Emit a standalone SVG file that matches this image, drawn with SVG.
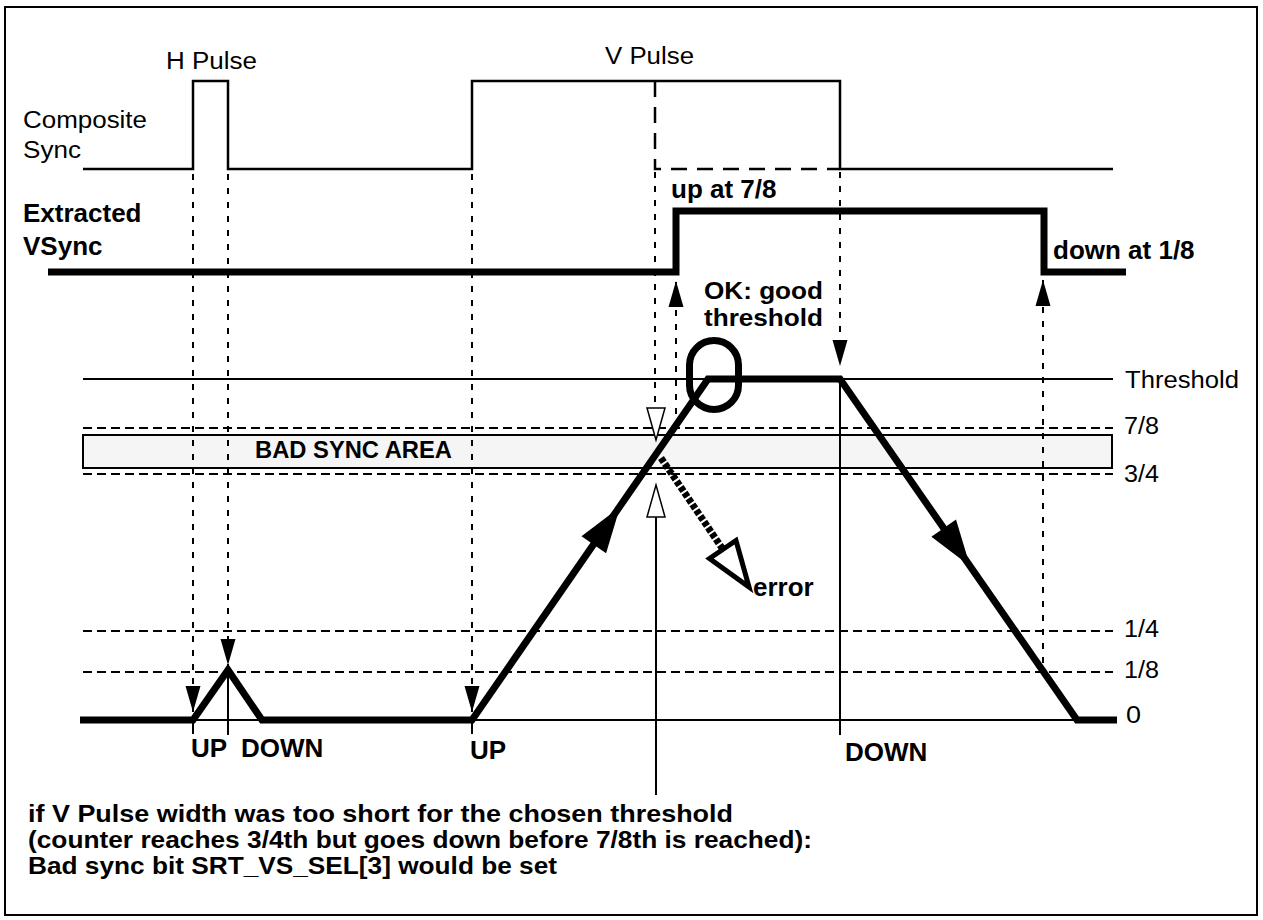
<svg xmlns="http://www.w3.org/2000/svg" width="1263" height="920" viewBox="0 0 1263 920">
<style>
.thin{stroke:#000;stroke-width:2;fill:none}
.sig{stroke:#000;stroke-width:2.5;fill:none}
.thick{stroke:#000;stroke-width:7;fill:none;stroke-linejoin:miter;stroke-miterlimit:10}
.lvl{stroke:#000;stroke-width:2;stroke-dasharray:9 5;fill:none}
.dot{stroke:#000;stroke-width:2;stroke-dasharray:6 8;fill:none}
.vdash{stroke:#000;stroke-width:2.5;stroke-dasharray:16 10;fill:none}
.hollow{fill:#fff;stroke:#000;stroke-width:1.5}
.solid{fill:#000;stroke:none}
text{font-family:"Liberation Sans",Arial,Helvetica,sans-serif;fill:#000}
.r{font-size:23px}
.b{font-size:26px;font-weight:bold}
.n{font-size:24.5px;font-weight:bold}
</style>
<defs>
<marker id="ah" markerUnits="userSpaceOnUse" viewBox="0 0 26 16" markerWidth="26" markerHeight="16" refX="26" refY="8" orient="auto">
<path d="M0,0.5 L26,8 L0,15.5 Z" fill="#000"/>
</marker>
</defs>
<rect id="frame" x="5" y="7" width="1252" height="908" fill="#fff" stroke="#000" stroke-width="2"/>

<g id="composite-sync">
<path class="sig" d="M83,169 H193 V81 H228 V169 H472 V81 H840 V169 H1113"/>
<path class="vdash" d="M655,81 V169 H840"/>
<text class="r" x="166" y="69" textLength="91" lengthAdjust="spacingAndGlyphs">H Pulse</text>
<text class="r" x="605" y="64" textLength="89" lengthAdjust="spacingAndGlyphs">V Pulse</text>
<text class="r" x="23" y="128" textLength="124" lengthAdjust="spacingAndGlyphs">Composite</text>
<text class="r" x="23" y="158" textLength="58" lengthAdjust="spacingAndGlyphs">Sync</text>
</g>

<g id="extracted-vsync">
<path class="thick" d="M48,272 H676 V211 H1044 V272 H1126"/>
<text class="b" x="23" y="222">Extracted</text>
<text class="b" x="23" y="255">VSync</text>
<text class="b" x="671" y="198">up at 7/8</text>
<text class="b" x="1053" y="259">down at 1/8</text>
</g>

<g id="levels">
<path class="thin" d="M83,379 H1113"/>
<path class="lvl" d="M83,428 H1113"/>
<rect x="83" y="435" width="1029" height="33" fill="#f5f5f5" stroke="#000" stroke-width="2"/>
<path class="lvl" d="M83,474 H1113"/>
<path class="lvl" d="M83,631 H1113"/>
<path class="lvl" d="M83,672 H1113"/>
<path class="thin" d="M193,720 H1077"/>
<text class="b" x="255" y="458" style="font-size:23px" textLength="197" lengthAdjust="spacingAndGlyphs">BAD SYNC AREA</text>
<text class="r" x="1125" y="388" textLength="114" lengthAdjust="spacingAndGlyphs">Threshold</text>
<text class="r" x="1124" y="434" textLength="35" lengthAdjust="spacingAndGlyphs">7/8</text>
<text class="r" x="1124" y="482" textLength="35" lengthAdjust="spacingAndGlyphs">3/4</text>
<text class="r" x="1124" y="637" textLength="35" lengthAdjust="spacingAndGlyphs">1/4</text>
<text class="r" x="1124" y="678" textLength="35" lengthAdjust="spacingAndGlyphs">1/8</text>
<text class="r" x="1126" y="723" textLength="15" lengthAdjust="spacingAndGlyphs">0</text>
</g>

<g id="counter">
<path class="thick" d="M80,720 H193 L228,670 L262,720 H472 L708,379 H840 L1077,720 H1117"/>
<polygon class="solid" points="620,507 606.1,553.3 581.5,536.3"/>
<polygon class="solid" points="970,566 956,519.6 931.4,536.8"/>
</g>

<g id="good-threshold">
<rect x="689.5" y="340.5" width="49" height="69" rx="24.5" fill="none" stroke="#000" stroke-width="7"/>
<text class="n" x="704" y="299" textLength="119" lengthAdjust="spacingAndGlyphs">OK: good</text>
<text class="n" x="704" y="326" textLength="119" lengthAdjust="spacingAndGlyphs">threshold</text>
</g>

<g id="error">
<path d="M661,458 L722,548" stroke="#000" stroke-width="7" stroke-dasharray="5 2" fill="none"/>
<polygon points="749,587 736,540.5 709.5,558.5" fill="#fff" stroke="#000" stroke-width="5" stroke-linejoin="miter"/>
<text class="b" x="753" y="596">error</text>
</g>

<g id="connectors">
<path class="dot" d="M193,174 V712" marker-end="url(#ah)"/>
<path class="dot" d="M228,174 V665" marker-end="url(#ah)"/>
<path class="dot" d="M472,174 V712" marker-end="url(#ah)"/>
<path class="dot" d="M655,172 V408"/>
<path class="dot" d="M840,172 V366" marker-end="url(#ah)"/>
<path class="dot" d="M676,428 V281" marker-end="url(#ah)"/>
<path class="dot" d="M1043,663 V280" marker-end="url(#ah)"/>
<polygon class="hollow" points="647,408 665,408 656,440"/>
<polygon class="hollow" points="656,485 665,517 647,517"/>
<path class="thin" d="M656,517 V795"/>
<path class="thin" d="M193,722 V734"/>
<path class="thin" d="M228,670 V735"/>
<path class="thin" d="M472,722 V734"/>
<path class="thin" d="M840,379 V735"/>
</g>

<g id="axis-labels">
<text class="b" x="191" y="757">UP</text>
<text class="b" x="241" y="757">DOWN</text>
<text class="b" x="470" y="759">UP</text>
<text class="b" x="845" y="761">DOWN</text>
</g>

<g id="note">
<text class="n" x="28" y="822" textLength="705" lengthAdjust="spacingAndGlyphs">if V Pulse width was too short for the chosen threshold</text>
<text class="n" x="28" y="848" textLength="784" lengthAdjust="spacingAndGlyphs">(counter reaches 3/4th but goes down before 7/8th is reached):</text>
<text class="n" x="28" y="874" textLength="529" lengthAdjust="spacingAndGlyphs">Bad sync bit SRT_VS_SEL[3] would be set</text>
</g>
</svg>
